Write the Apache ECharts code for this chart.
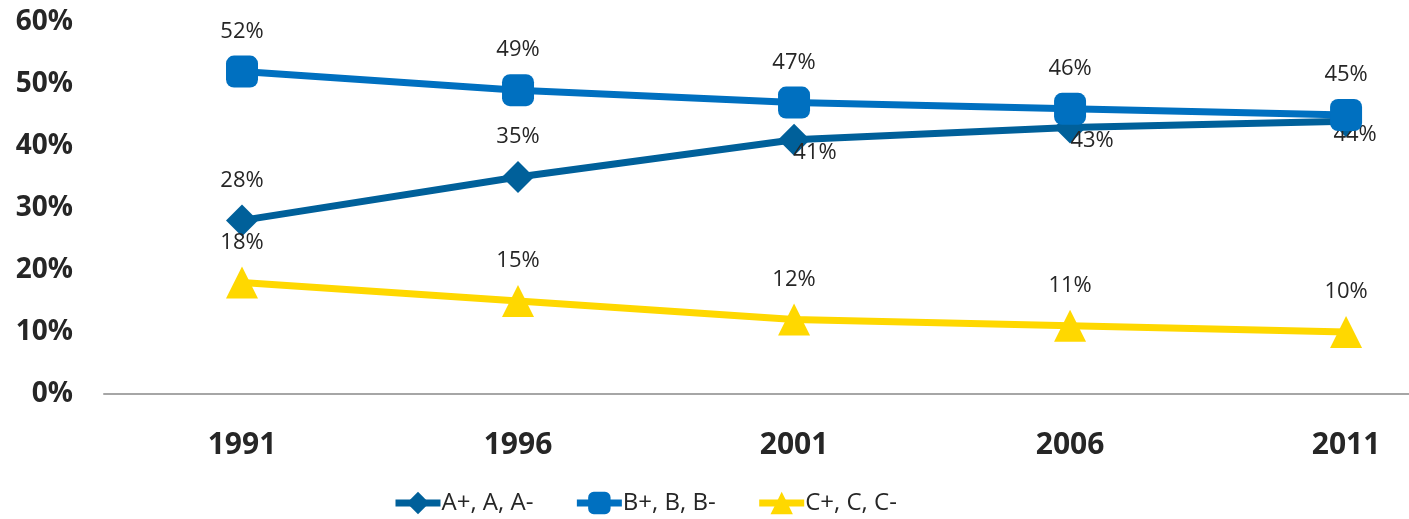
<!DOCTYPE html>
<html>
<head>
<meta charset="utf-8">
<script src="https://cdn.jsdelivr.net/npm/echarts@6/dist/echarts.min.js"></script>
<style>html,body{margin:0;padding:0;background:#fff}#c{width:1409px;height:519px}</style>
</head>
<body>
<div id="c"></div>
<script>
const categories = ['1991', '1996', '2001', '2006', '2011'];
const seriesNames = ['A+, A, A-', 'B+, B, B-', 'C+, C, C-'];
const valuesA = [28, 35, 41, 43, 44];
const valuesB = [52, 49, 47, 46, 45];
const valuesC = [18, 15, 12, 11, 10];
const yTicks = [0, 10, 20, 30, 40, 50, 60];

const FONT = '"Open Sans", "Noto Sans", sans-serif';
const labelStyle = { color: '#262626', fontSize: 22, fontFamily: FONT };
const years = categories.map(Number);
const pairs = vals => vals.map((v, i) => [years[i], v]);

// label offsets for series A: first two above, rest below-right
const offsetsA = [[0, -40], [0, -40], [21, 13], [22, 13], [9, 14]];

const chart = echarts.init(document.getElementById('c'), null, { renderer: 'canvas' });
chart.setOption({
  animation: false,
  backgroundColor: '#ffffff',
  grid: { left: 104, right: 0, top: 22, bottom: 125, containLabel: false },
  legend: {
    left: 387, top: 486,
    itemWidth: 45, itemHeight: 28, itemGap: 40,
    lineStyle: { width: 7 },
    textStyle: { color: '#262626', fontSize: 24, fontFamily: FONT, padding: [0, 0, 0, -4] },
    data: seriesNames
  },
  xAxis: {
    type: 'value',
    min: 1988.5, max: 2012.14,
    axisLine: { lineStyle: { color: '#A6A6A6', width: 2 } },
    axisTick: { show: false },
    axisLabel: {
      color: '#262626', fontSize: 30, fontWeight: 'bold', fontFamily: FONT, margin: 36,
      customValues: years, formatter: v => String(v), showMinLabel: true, showMaxLabel: true
    },
    splitLine: { show: false }
  },
  yAxis: {
    type: 'value',
    min: yTicks[0], max: yTicks[yTicks.length - 1], interval: 10,
    axisLine: { show: false },
    axisTick: { show: false },
    splitLine: { show: false },
    axisLabel: { color: '#262626', fontSize: 28, fontWeight: 'bold', fontFamily: FONT, margin: 31, formatter: '{value}%' }
  },
  series: [
    {
      name: seriesNames[0], type: 'line',
      data: pairs(valuesA).map((p, i) => ({ value: p, label: { offset: offsetsA[i] } })),
      color: '#00609A',
      lineStyle: { width: 7, color: '#00609A' },
      symbol: 'diamond', symbolSize: 32,
      itemStyle: { color: '#00609A' },
      label: Object.assign({ show: true, position: 'inside', formatter: p => p.value[1] + '%' }, labelStyle),
      z: 2
    },
    {
      name: seriesNames[1], type: 'line',
      data: pairs(valuesB),
      color: '#0070C0',
      lineStyle: { width: 7, color: '#0070C0' },
      symbol: 'roundRect', symbolSize: 32,
      itemStyle: { color: '#0070C0' },
      label: Object.assign({ show: true, position: 'inside', offset: [0, -40], formatter: p => p.value[1] + '%' }, labelStyle),
      z: 3
    },
    {
      name: seriesNames[2], type: 'line',
      data: pairs(valuesC),
      color: '#FFD800',
      lineStyle: { width: 7, color: '#FFD800' },
      symbol: 'triangle', symbolSize: 32,
      itemStyle: { color: '#FFD800' },
      label: Object.assign({ show: true, position: 'inside', offset: [0, -40], formatter: p => p.value[1] + '%' }, labelStyle),
      z: 2
    }
  ]
});
</script>
</body>
</html>
